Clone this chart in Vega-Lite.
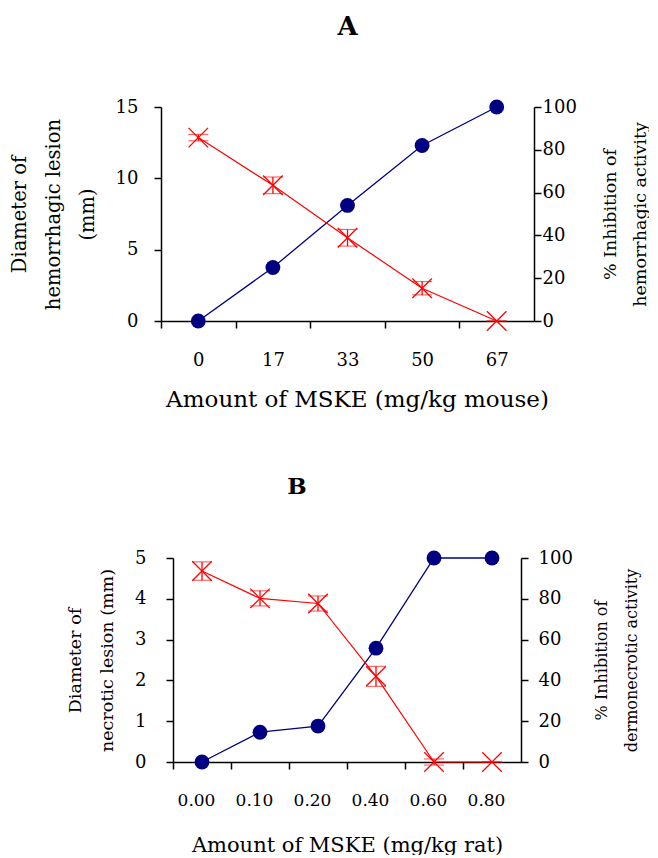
{
  "$schema": "https://vega.github.io/schema/vega-lite/v6.json",
  "background": "white",
  "padding": {"left": 9, "top": 14, "right": 0, "bottom": 0},
  "spacing": 65,
  "config": {
    "font": "DejaVu Serif",
    "view": {"stroke": null},
    "axis": {
      "domainColor": "black", "tickColor": "black", "labelColor": "black", "titleColor": "black",
      "titleFontWeight": "normal", "domainWidth": 1.5, "tickWidth": 1.5, "grid": false,
      "labelFont": "DejaVu Serif", "titleFont": "DejaVu Serif", "tickSize": 7
    }
  },
  "datasets": {
    "a": [
      {"dose": "0", "diam": 0, "inhib": 85.7, "err": 1.5},
      {"dose": "17", "diam": 3.75, "inhib": 63.4, "err": 3.9},
      {"dose": "33", "diam": 8.1, "inhib": 38.9, "err": 3.9},
      {"dose": "50", "diam": 12.3, "inhib": 15.3, "err": 3.1},
      {"dose": "67", "diam": 15, "inhib": 0, "err": 0}
    ],
    "b": [
      {"dose": "0.00", "diam": 0, "inhib": 93.6, "err": 4.5},
      {"dose": "0.10", "diam": 0.73, "inhib": 80.2, "err": 3.7},
      {"dose": "0.20", "diam": 0.88, "inhib": 77.7, "err": 3.7},
      {"dose": "0.40", "diam": 2.79, "inhib": 42, "err": 4.9},
      {"dose": "0.60", "diam": 5, "inhib": 0, "err": 1.5},
      {"dose": "0.80", "diam": 5, "inhib": 0, "err": 0}
    ]
  },
  "vconcat": [
    {
      "title": {"text": "A", "font": "DejaVu Serif", "fontSize": 26, "fontWeight": "bold", "offset": 58},
      "width": 373, "height": 214,
      "data": {"name": "a"},
      "encoding": {
        "x": {"field": "dose", "type": "ordinal", "sort": null,
          "scale": {"type": "point", "padding": 0.5},
          "axis": {"title": "Amount of MSKE (mg/kg mouse)", "labelAngle": 0, "tickOffset": -37.3, "labelOffset": 37.3,
            "labelFontSize": 18, "titleFontSize": 23, "labelPadding": 23, "titlePadding": 19, "titleX": 196}}
      },
      "layer": [
        {
          "encoding": {"y": {"field": "diam", "type": "quantitative", "scale": {"domain": [0, 15], "nice": false},
            "axis": {"title": ["Diameter of", "hemorrhagic lesion", "(mm)"], "values": [0, 5, 10, 15],
              "labelFontSize": 18, "labelPadding": 16, "titleFontSize": 19.5, "titleLineHeight": 34, "titlePadding": 18}}},
          "layer": [
            {"mark": {"type": "line", "color": "#000080", "strokeWidth": 1.3}},
            {"mark": {"type": "point", "shape": "circle", "filled": true, "color": "#000080", "size": 220, "opacity": 1}}
          ]
        },
        {
          "encoding": {"y": {"field": "inhib", "type": "quantitative", "scale": {"domain": [0, 100], "nice": false},
            "axis": {"orient": "right", "title": ["% Inhibition of", "hemorrhagic activity"], "values": [0, 20, 40, 60, 80, 100],
              "labelFontSize": 18, "labelPadding": 1, "titleFontSize": 17.5, "titleLineHeight": 30, "titleAngle": 270,
              "titleBaseline": "top", "titlePadding": -5}}},
          "layer": [
            {"mark": {"type": "line", "color": "#ff0000", "strokeWidth": 1.2}},
            {"mark": {"type": "errorbar", "color": "#ff0000", "ticks": {"size": 20, "color": "#ff0000", "strokeWidth": 1.3}, "rule": {"strokeWidth": 1.3}},
              "encoding": {"yError": {"field": "err"}}},
            {"mark": {"type": "point", "shape": "M-1,-1L1,1M-1,1L1,-1", "filled": false, "color": "#ff0000", "strokeWidth": 1.3, "size": 380, "opacity": 1}}
          ]
        }
      ],
      "resolve": {"scale": {"y": "independent"}}
    },
    {
      "title": {"text": "B", "font": "DejaVu Serif", "fontSize": 23, "fontWeight": "bold", "offset": 50, "dx": -44},
      "width": 360, "height": 204,
      "data": {"name": "b"},
      "encoding": {
        "x": {"field": "dose", "type": "ordinal", "sort": null,
          "scale": {"type": "point", "padding": 0.5, "range": [12, 360]},
          "axis": {"title": "Amount of MSKE (mg/kg rat)", "labelAngle": 0, "tickOffset": -29, "labelOffset": 23,
            "labelFontSize": 17, "titleFontSize": 21, "labelPadding": 23, "titlePadding": 26}}
      },
      "layer": [
        {
          "encoding": {"y": {"field": "diam", "type": "quantitative", "scale": {"domain": [0, 5], "nice": false},
            "axis": {"title": ["Diameter of", "necrotic lesion (mm)"], "values": [0, 1, 2, 3, 4, 5], "offset": -12,
              "labelFontSize": 18, "labelPadding": 20, "titleFontSize": 17.5, "titleLineHeight": 32, "titlePadding": 18}}},
          "layer": [
            {"mark": {"type": "line", "color": "#000080", "strokeWidth": 1.3}},
            {"mark": {"type": "point", "shape": "circle", "filled": true, "color": "#000080", "size": 220, "opacity": 1}}
          ]
        },
        {
          "encoding": {"y": {"field": "inhib", "type": "quantitative", "scale": {"domain": [0, 100], "nice": false},
            "axis": {"orient": "right", "title": ["% Inhibition of", "dermonecrotic activity"], "values": [0, 20, 40, 60, 80, 100],
              "labelFontSize": 18, "labelPadding": 10, "titleFontSize": 16, "titleLineHeight": 30, "titleAngle": 270,
              "titleBaseline": "top", "titlePadding": -9}}},
          "layer": [
            {"mark": {"type": "line", "color": "#ff0000", "strokeWidth": 1.2}},
            {"mark": {"type": "errorbar", "color": "#ff0000", "ticks": {"size": 20, "color": "#ff0000", "strokeWidth": 1.3}, "rule": {"strokeWidth": 1.3}},
              "encoding": {"yError": {"field": "err"}}},
            {"mark": {"type": "point", "shape": "M-1,-1L1,1M-1,1L1,-1", "filled": false, "color": "#ff0000", "strokeWidth": 1.3, "size": 380, "opacity": 1}}
          ]
        }
      ],
      "resolve": {"scale": {"y": "independent"}}
    }
  ]
}
